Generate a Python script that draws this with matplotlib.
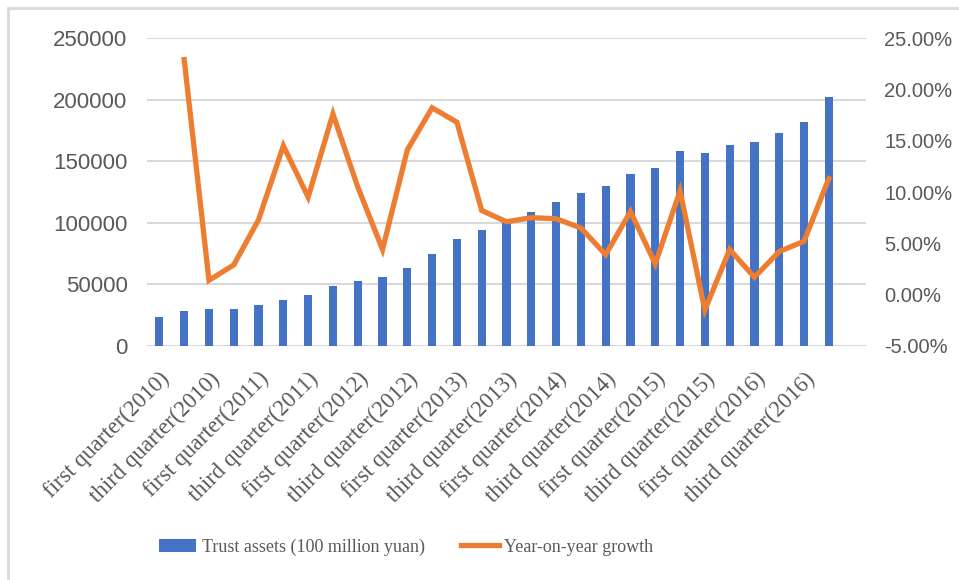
import matplotlib
matplotlib.use('Agg')
import matplotlib.pyplot as plt
import numpy as np
from matplotlib.ticker import FuncFormatter

# quarterly trust assets and growth, Q1 2010 - Q4 2016
quarters = []
for year in range(2010, 2017):
    for q in ['first', 'second', 'third', 'fourth']:
        quarters.append('{} quarter({})'.format(q, year))

assets = [23800, 28600, 30000, 30200, 33300, 37300, 41400, 48900, 52700, 56000,
          63500, 74600, 86800, 94100, 101000, 108500, 116800, 124000, 129700, 139500,
          144300, 158100, 156500, 163000, 165400, 172700, 181600, 201900]

growth = [np.nan, 22.9, 1.4, 2.9, 7.3, 14.5, 9.5, 17.6, 10.5, 4.4,
          14.1, 18.2, 16.8, 8.2, 7.1, 7.5, 7.4, 6.5, 3.9, 8.1,
          3.0, 10.1, -1.5, 4.4, 1.7, 4.2, 5.2, 11.3]

blue = '#4472C4'
orange = '#ED7D31'
grey = '#595959'

fig = plt.figure(figsize=(9.59, 5.8), dpi=100)
ax = fig.add_axes([147/959, 1 - 346/580, (866-147)/959, (346-38)/580])

x = np.arange(len(quarters))
bars = ax.bar(x, assets, width=0.33, color=blue, zorder=2,
              label='Trust assets (100 million yuan)')

ax.set_xlim(-0.5, len(quarters) + 0.5)
ax.set_ylim(0, 250000)
ax.set_yticks(np.arange(0, 250001, 50000))
ax.yaxis.grid(True, color='#D9D9D9', linewidth=1.5, zorder=0)
ax.set_axisbelow(True)
for s in ax.spines.values():
    s.set_visible(False)
ax.tick_params(axis='y', length=0, pad=14, labelsize=16, labelcolor=grey)
for t in ax.get_yticklabels():
    t.set_family('Liberation Sans')

ax.set_xticks(x[::2])
ax.set_xticklabels(quarters[::2], rotation=45, ha='right', va='top',
                   rotation_mode='anchor', family='Liberation Serif',
                   fontsize=16.5, color=grey)
ax.tick_params(axis='x', length=0, pad=16)

ax2 = ax.twinx()
line, = ax2.plot(x, growth, color=orange, linewidth=3.8, zorder=3,
                 solid_joinstyle='miter', label='Year-on-year growth')
ax2.set_ylim(-5, 25)
ax2.set_yticks(np.arange(-5, 25.1, 5))
ax2.yaxis.set_major_formatter(FuncFormatter(lambda v, p: '{:.2f}%'.format(v)))
for s in ax2.spines.values():
    s.set_visible(False)
ax2.tick_params(axis='y', length=0, pad=13, labelsize=14.5, labelcolor=grey)
for t in ax2.get_yticklabels():
    t.set_family('Liberation Sans')

leg = fig.legend([bars, line], ['Trust assets (100 million yuan)', 'Year-on-year growth'],
                 loc='center', bbox_to_anchor=(406/959, 1 - 547/580), ncol=2,
                 frameon=False, handlelength=2.1, handleheight=0.75, handletextpad=0.3,
                 columnspacing=2.0, borderaxespad=0,
                 prop={'family': 'Liberation Serif', 'size': 13})
for t in leg.get_texts():
    t.set_color(grey)

# chart area border
fig.patches.append(plt.Rectangle((8/959, -0.1), 1.2, 1 - 8/580 + 0.1,
                                 transform=fig.transFigure, fill=False,
                                 edgecolor='#D9D9D9', linewidth=2))

fig.savefig('out.png', dpi=100)
